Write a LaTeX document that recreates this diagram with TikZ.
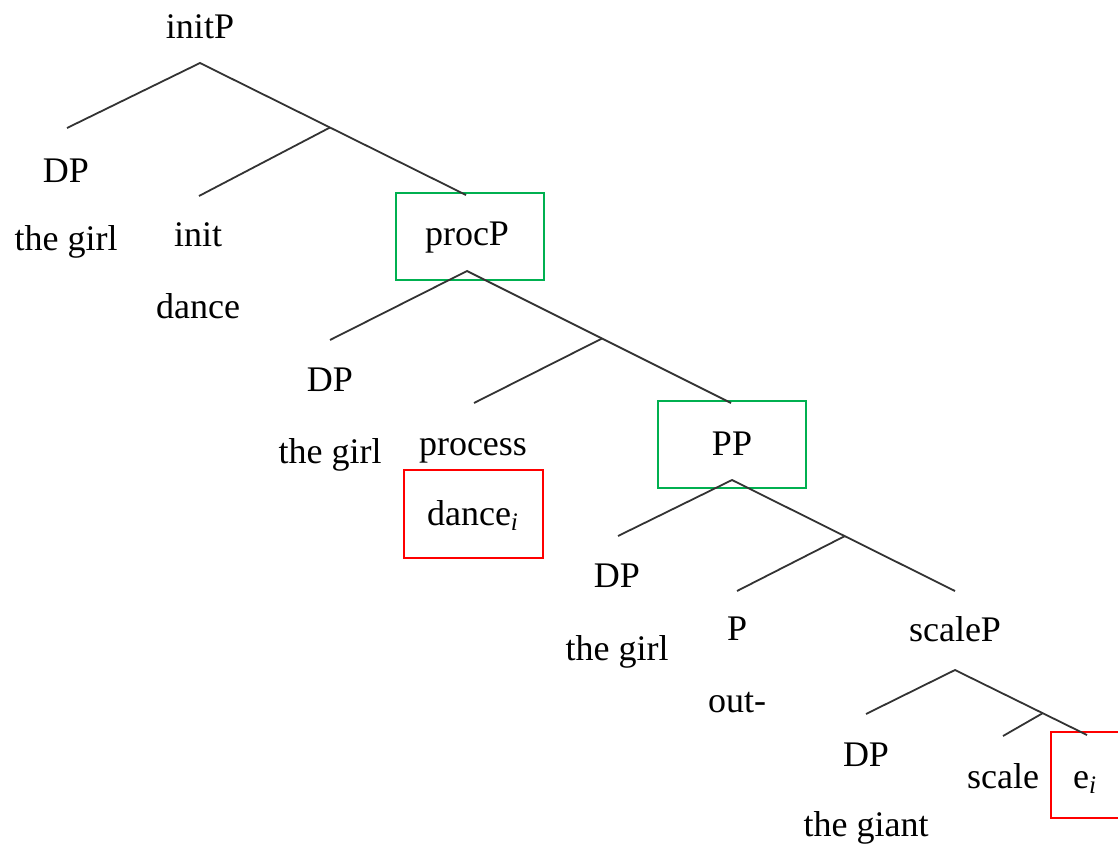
\documentclass[tikz,border=0pt]{standalone}
\usepackage{fontspec}
\setmainfont{Liberation Serif}
\definecolor{boxgreen}{RGB}{0,176,80}
\definecolor{boxred}{RGB}{255,0,0}
\tikzset{
  lbl/.style={anchor=base, inner sep=0pt, font=\fontsize{18}{20}\selectfont},
  branch/.style={draw=black!80, line width=0.9pt},
  greenbox/.style={draw=boxgreen, line width=1pt, minimum width=74pt, minimum height=43.5pt, inner sep=0pt},
  redbox/.style={draw=boxred, line width=1pt, minimum width=69.5pt, minimum height=44pt, inner sep=0pt}
}
\begin{document}
\begin{tikzpicture}[x=0.5pt,y=-0.5pt]
\useasboundingbox (0,0) rectangle (1118,846);
% highlight boxes
\node[greenbox] (boxprocP) at (470,236.5) {};
\node[greenbox] (boxPP) at (732,444.5) {};
\node[redbox] (boxdance) at (473.5,514) {};
\draw[draw=boxred, line width=1pt] (1120,732) -- (1051,732) -- (1051,818) -- (1120,818);
% labels
\node[lbl] (initP) at (200,39) {initP};
\node[lbl] (dp1) at (66,182) {DP};
\node[lbl] (girl1) at (66,250) {the girl};
\node[lbl] (init) at (198,246) {init};
\node[lbl] (dance) at (198,318) {dance};
\node[lbl] (procP) at (467,245) {procP};
\node[lbl] (dp2) at (330,391) {DP};
\node[lbl] (girl2) at (330,463) {the girl};
\node[lbl] (process) at (473,455) {process};
\node[lbl] (dancei) at (473,525) {dance\textsubscript{\itshape i}};
\node[lbl] (PP) at (732,455) {PP};
\node[lbl] (dp3) at (617,587) {DP};
\node[lbl] (girl3) at (617,660) {the girl};
\node[lbl] (P) at (737,640) {P};
\node[lbl] (out) at (737,712) {out-};
\node[lbl] (scaleP) at (955,641) {scaleP};
\node[lbl] (dp4) at (866,766) {DP};
\node[lbl] (giant) at (866,836) {the giant};
\node[lbl] (scale) at (1003,788) {scale};
\node[lbl] (ei) at (1085,788) {e\textsubscript{\itshape i}};
% tree coordinates
\coordinate (a1) at (200,63);
\coordinate (l1) at (67,128);
\coordinate (r1) at (466,195);
\coordinate (b1) at (330,127.5);
\coordinate (m1) at (199,196);
\coordinate (a2) at (467,271);
\coordinate (l2) at (330,340);
\coordinate (r2) at (731,403);
\coordinate (b2) at (602,338.5);
\coordinate (m2) at (474,403);
\coordinate (a3) at (732,480);
\coordinate (l3) at (618,536);
\coordinate (r3) at (955,591);
\coordinate (b3) at (845,536);
\coordinate (m3) at (737,591);
\coordinate (a4) at (955,670);
\coordinate (l4) at (866,714);
\coordinate (r4) at (1087,735);
\coordinate (b4) at (1043,713);
\coordinate (m4) at (1003,736);
% branches
\draw[branch] (l1) -- (a1) -- (r1);
\draw[branch] (b1) -- (m1);
\draw[branch] (l2) -- (a2) -- (r2);
\draw[branch] (b2) -- (m2);
\draw[branch] (l3) -- (a3) -- (r3);
\draw[branch] (b3) -- (m3);
\draw[branch] (l4) -- (a4) -- (r4);
\draw[branch] (b4) -- (m4);
\end{tikzpicture}
\end{document}
